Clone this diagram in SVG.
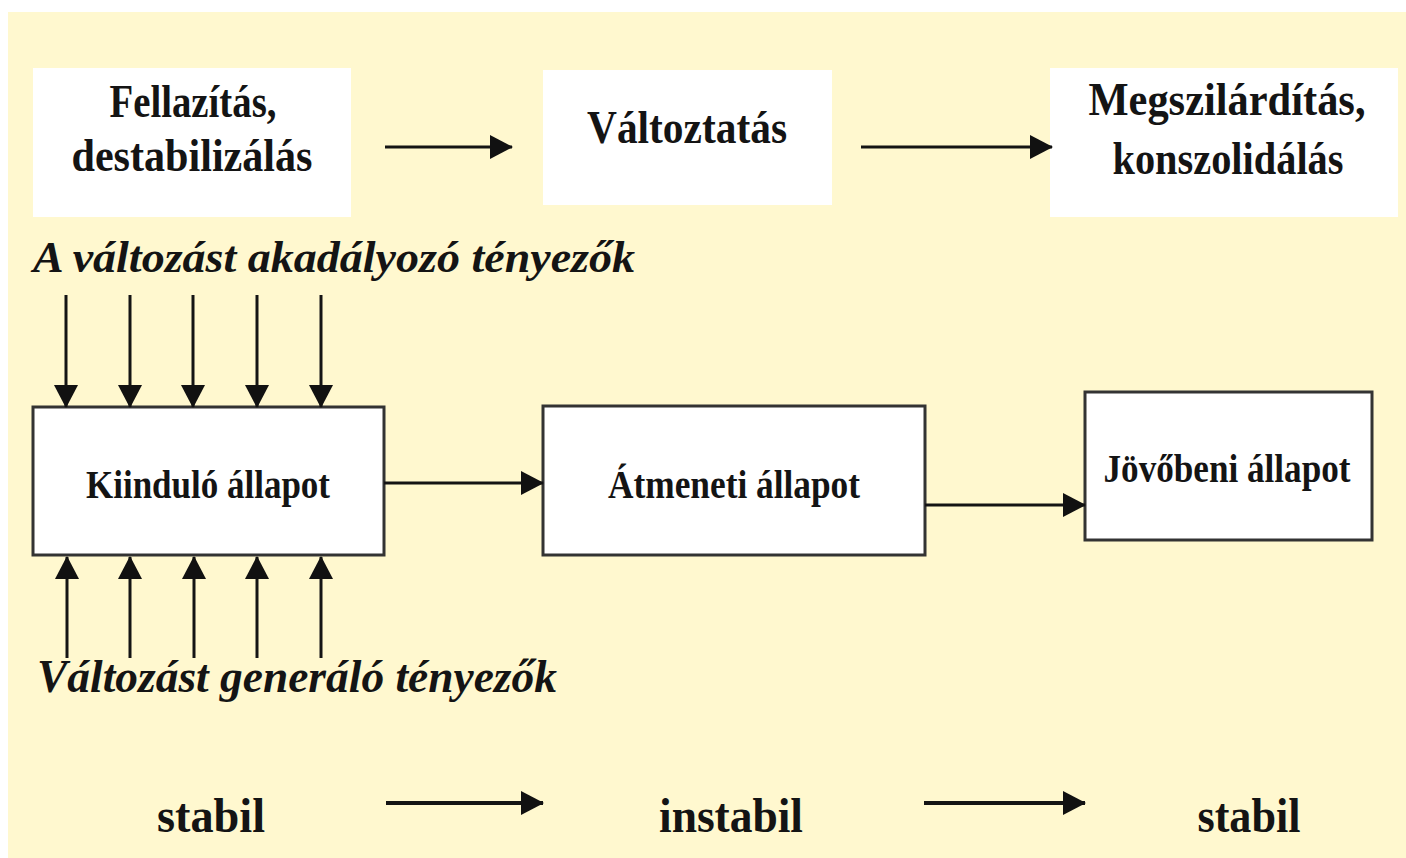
<svg xmlns="http://www.w3.org/2000/svg" width="1406" height="858" viewBox="0 0 1406 858">
  <defs>
    <marker id="ah" markerUnits="userSpaceOnUse" markerWidth="23" markerHeight="24" refX="22" refY="12" orient="auto">
      <path d="M0,0 L23,12 L0,24 z" fill="#111"/>
    </marker>
    <style>
      .t { font-family: "Liberation Serif", "Times New Roman", serif; font-weight: bold; fill: #141414; text-anchor: middle; }
      .it { font-family: "Liberation Serif", "Times New Roman", serif; font-weight: bold; font-style: italic; fill: #141414; }
      .soft { fill: #ffffff; }
      .box { fill: #ffffff; stroke: #333; stroke-width: 3; }
      .conn line { stroke: #141414; stroke-width: 3; marker-end: url(#ah); }
    </style>
  </defs>
  <rect x="0" y="0" width="1406" height="858" fill="#ffffff"/>
  <rect x="8" y="12" width="1398" height="846" fill="#FFF8CF"/>

  <g id="fellazitas">
    <rect class="soft" x="33" y="68" width="318" height="149"/>
    <text class="t" x="193" y="117" font-size="47" textLength="167" lengthAdjust="spacingAndGlyphs">Fellazítás,</text>
    <text class="t" x="192" y="171" font-size="47" textLength="241" lengthAdjust="spacingAndGlyphs">destabilizálás</text>
  </g>
  <g id="valtoztatas">
    <rect class="soft" x="543" y="70" width="289" height="135"/>
    <text class="t" x="687" y="143" font-size="47" textLength="200" lengthAdjust="spacingAndGlyphs">Változtatás</text>
  </g>
  <g id="megszilarditas">
    <rect class="soft" x="1050" y="68" width="348" height="149"/>
    <text class="t" x="1227" y="115" font-size="47" textLength="277" lengthAdjust="spacingAndGlyphs">Megszilárdítás,</text>
    <text class="t" x="1228" y="174" font-size="47" textLength="231" lengthAdjust="spacingAndGlyphs">konszolidálás</text>
  </g>

  <g id="akadalyozo">
    <text class="it" x="33" y="272" font-size="45" textLength="602" lengthAdjust="spacingAndGlyphs">A változást akadályozó tényezők</text>
  </g>

  <g id="kiindulo">
    <rect class="box" x="33" y="407" width="351" height="148"/>
    <text class="t" x="208" y="498" font-size="40" textLength="244" lengthAdjust="spacingAndGlyphs">Kiinduló állapot</text>
  </g>
  <g id="atmeneti">
    <rect class="box" x="543" y="406" width="382" height="149"/>
    <text class="t" x="734" y="498" font-size="40" textLength="252" lengthAdjust="spacingAndGlyphs">Átmeneti állapot</text>
  </g>
  <g id="jovobeni">
    <rect class="box" x="1085" y="392" width="287" height="148"/>
    <text class="t" x="1227" y="482" font-size="40" textLength="247" lengthAdjust="spacingAndGlyphs">Jövőbeni állapot</text>
  </g>

  <g id="generalo">
    <text class="it" x="37" y="692" font-size="46" textLength="520" lengthAdjust="spacingAndGlyphs">Változást generáló tényezők</text>
  </g>

  <g id="stabil1">
    <text class="t" x="211" y="832" font-size="48" textLength="108" lengthAdjust="spacingAndGlyphs">stabil</text>
  </g>
  <g id="instabil">
    <text class="t" x="731" y="832" font-size="48" textLength="144" lengthAdjust="spacingAndGlyphs">instabil</text>
  </g>
  <g id="stabil2">
    <text class="t" x="1249" y="832" font-size="48" textLength="103" lengthAdjust="spacingAndGlyphs">stabil</text>
  </g>

  <g id="connectors" class="conn">
    <line x1="385" y1="147" x2="512" y2="147"/>
    <line x1="861" y1="147" x2="1052" y2="147"/>

    <line x1="66" y1="295" x2="66" y2="407"/>
    <line x1="130" y1="295" x2="130" y2="407"/>
    <line x1="193" y1="295" x2="193" y2="407"/>
    <line x1="257" y1="295" x2="257" y2="407"/>
    <line x1="321" y1="295" x2="321" y2="407"/>

    <line x1="67" y1="658" x2="67" y2="557"/>
    <line x1="130" y1="658" x2="130" y2="557"/>
    <line x1="194" y1="658" x2="194" y2="557"/>
    <line x1="257" y1="658" x2="257" y2="557"/>
    <line x1="321" y1="658" x2="321" y2="557"/>

    <line x1="384" y1="483" x2="543" y2="483"/>
    <line x1="925" y1="505" x2="1085" y2="505"/>

    <line x1="386" y1="803" x2="543" y2="803" style="stroke-width:4"/>
    <line x1="924" y1="803" x2="1085" y2="803" style="stroke-width:4"/>
  </g>
</svg>
